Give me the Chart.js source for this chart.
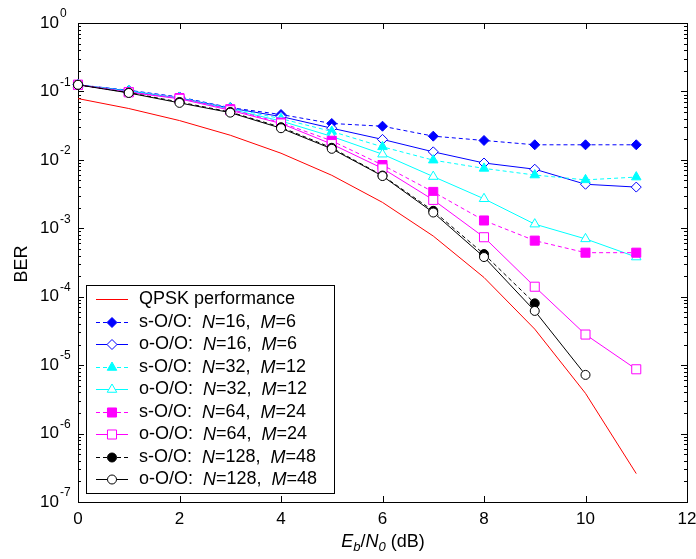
<!DOCTYPE html>
<html>
<head>
<meta charset="utf-8">
<script src="https://cdn.jsdelivr.net/npm/chart.js@4.4.0/dist/chart.umd.min.js"></script>
<style>
html, body { margin: 0; padding: 0; background: #fff; }
</style>
</head>
<body>
<canvas id="berChart" width="696" height="559"></canvas>
<script>
// Eb/N0 in dB
var ebno = [0, 1, 2, 3, 4, 5, 6, 7, 8, 9, 10, 11];

var qpsk   = [0.0786, 0.0563, 0.0375, 0.0229, 0.0125, 0.00595, 0.00239, 0.00077, 0.000191, 0.0000336, 0.00000387, 0.00000026];
var sN16   = [0.125, 0.104, 0.083, 0.058, 0.046, 0.034, 0.031, 0.0222, 0.0192, 0.0166, 0.0166, 0.0166];
var oN16   = [0.125, 0.102, 0.080, 0.057, 0.043, 0.029, 0.0199, 0.0131, 0.0090, 0.0073, 0.0044, 0.0040];
var sN32   = [0.125, 0.102, 0.081, 0.057, 0.040, 0.026, 0.0155, 0.0099, 0.0075, 0.0060, 0.0051, 0.0056];
var oN32   = [0.125, 0.100, 0.079, 0.055, 0.037, 0.022, 0.0121, 0.0057, 0.0027, 0.00115, 0.00070, 0.00038];
var sN64   = [0.125, 0.098, 0.080, 0.055, 0.035, 0.019, 0.0084, 0.0034, 0.0013, 0.00066, 0.00044, 0.00044];
var oN64   = [0.125, 0.097, 0.078, 0.053, 0.034, 0.017, 0.0075, 0.0026, 0.00074, 0.00014, 0.000028, 0.0000087];
var sN128  = [0.125, 0.096, 0.070, 0.050, 0.030, 0.015, 0.0059, 0.0018, 0.00042, 0.000080, null, null];
var oN128  = [0.125, 0.095, 0.068, 0.049, 0.029, 0.0145, 0.0058, 0.0017, 0.00038, 0.000062, 0.0000072, null];

var xTicks = [0, 2, 4, 6, 8, 10, 12];
var yExponents = [0, -1, -2, -3, -4, -5, -6, -7];

// legend text pieces, italic parts flagged
var legendLabels = [
    [['QPSK performance']],
    [['s-O/O:  '], ['N', 1], ['=16,  '], ['M', 1], ['=6']],
    [['o-O/O:  '], ['N', 1], ['=16,  '], ['M', 1], ['=6']],
    [['s-O/O:  '], ['N', 1], ['=32,  '], ['M', 1], ['=12']],
    [['o-O/O:  '], ['N', 1], ['=32,  '], ['M', 1], ['=12']],
    [['s-O/O:  '], ['N', 1], ['=64,  '], ['M', 1], ['=24']],
    [['o-O/O:  '], ['N', 1], ['=64,  '], ['M', 1], ['=24']],
    [['s-O/O:  '], ['N', 1], ['=128,  '], ['M', 1], ['=48']],
    [['o-O/O:  '], ['N', 1], ['=128,  '], ['M', 1], ['=48']]
];

var FONT = 'Arial, "Liberation Sans", sans-serif';

function series(values, color, dashed, style, radius, filled) {
    return {
        data: values,
        borderColor: color,
        borderWidth: 1,
        borderDash: dashed ? [4, 3] : [],
        pointStyle: style || false,
        pointRadius: style ? radius : 0,
        pointBorderColor: color,
        pointBackgroundColor: filled ? color : '#ffffff',
        pointBorderWidth: 1,
        pointHoverRadius: radius || 0,
        spanGaps: false,
        tension: 0,
        clip: false
    };
}

var datasets = [
    series(qpsk, '#ff0000', false, false, 0, false),
    series(sN16, '#0000ff', true, 'rectRot', 5, true),
    series(oN16, '#0000ff', false, 'rectRot', 5, false),
    series(sN32, '#00ffff', true, 'triangle', 5.5, true),
    series(oN32, '#00ffff', false, 'triangle', 5.5, false),
    series(sN64, '#ff00ff', true, 'rect', 6.4, true),
    series(oN64, '#ff00ff', false, 'rect', 6.4, false),
    series(sN128, '#000000', true, 'circle', 4.5, true),
    series(oN128, '#000000', false, 'circle', 4.5, false)
];
datasets.forEach(function (d, i) { d.order = datasets.length - i; });

function drawRich(ctx, parts, x, y, size) {
    parts.forEach(function (p) {
        ctx.font = (p[1] ? 'italic ' : '') + size + 'px ' + FONT;
        ctx.fillText(p[0], x, y);
        x += ctx.measureText(p[0]).width;
    });
}

var axesPlugin = {
    id: 'matlabAxes',
    beforeDatasetsDraw: function (chart) {
        var ctx = chart.ctx, a = chart.chartArea;
        var xs = chart.scales.x, ys = chart.scales.y;
        ctx.save();
        ctx.strokeStyle = '#000';
        ctx.lineWidth = 1;
        ctx.strokeRect(Math.round(a.left) + 0.5, Math.round(a.top) + 0.5,
            Math.round(a.right - a.left), Math.round(a.bottom - a.top));

        ctx.beginPath();
        xTicks.forEach(function (v) {
            var px = Math.round(xs.getPixelForValue(v)) + 0.5;
            ctx.moveTo(px, a.bottom); ctx.lineTo(px, a.bottom - 6);
            ctx.moveTo(px, a.top); ctx.lineTo(px, a.top + 6);
        });
        yExponents.forEach(function (e) {
            var py = Math.round(ys.getPixelForValue(Math.pow(10, e))) + 0.5;
            ctx.moveTo(a.left, py); ctx.lineTo(a.left + 6, py);
            ctx.moveTo(a.right, py); ctx.lineTo(a.right - 6, py);
            if (e < 0) {
                for (var k = 2; k <= 9; k++) {
                    var pm = Math.round(ys.getPixelForValue(k * Math.pow(10, e))) + 0.5;
                    ctx.moveTo(a.left, pm); ctx.lineTo(a.left + 3, pm);
                    ctx.moveTo(a.right, pm); ctx.lineTo(a.right - 3, pm);
                }
            }
        });
        ctx.stroke();

        // tick labels
        ctx.fillStyle = '#000';
        ctx.textBaseline = 'middle';
        ctx.textAlign = 'center';
        ctx.font = '17px ' + FONT;
        xTicks.forEach(function (v) {
            ctx.fillText(String(v), xs.getPixelForValue(v), a.bottom + 17);
        });
        yExponents.forEach(function (e) {
            var py = ys.getPixelForValue(Math.pow(10, e));
            ctx.textAlign = 'right';
            ctx.font = '17px ' + FONT;
            ctx.fillText('10', a.left - 19, py);
            ctx.textAlign = 'left';
            ctx.font = '12px ' + FONT;
            ctx.fillText(String(e), a.left - 18, py - 9);
        });

        // axis titles
        ctx.save();
        ctx.translate(22, 264);
        ctx.rotate(-Math.PI / 2);
        ctx.textAlign = 'center';
        ctx.font = '18px ' + FONT;
        ctx.fillText('BER', 0, 0);
        ctx.restore();

        var parts = [['E', 1, 18, 0], ['b', 1, 13, 5], ['/', 0, 18, 0], ['N', 1, 18, 0], ['0', 1, 13, 5], [' (dB)', 0, 18, 0]];
        var total = 0;
        parts.forEach(function (p) {
            ctx.font = (p[1] ? 'italic ' : '') + p[2] + 'px ' + FONT;
            total += ctx.measureText(p[0]).width;
        });
        var tx = 383 - total / 2;
        ctx.textAlign = 'left';
        parts.forEach(function (p) {
            ctx.font = (p[1] ? 'italic ' : '') + p[2] + 'px ' + FONT;
            ctx.fillText(p[0], tx, 542 + p[3]);
            tx += ctx.measureText(p[0]).width;
        });
        ctx.restore();
    },
    afterDraw: function (chart) {
        var ctx = chart.ctx;
        var box = { left: 86, top: 285, right: 334, bottom: 493 };
        ctx.save();
        ctx.fillStyle = '#fff';
        ctx.fillRect(box.left, box.top, box.right - box.left, box.bottom - box.top);
        ctx.strokeStyle = '#000';
        ctx.lineWidth = 1;
        ctx.strokeRect(box.left + 0.5, box.top + 0.5, box.right - box.left, box.bottom - box.top);

        chart.data.datasets.forEach(function (d, i) {
            var y = Math.round(299 + i * 22.5) + 0.5;
            ctx.save();
            ctx.strokeStyle = d.borderColor;
            ctx.lineWidth = 1;
            ctx.setLineDash(d.borderDash);
            ctx.beginPath();
            ctx.moveTo(96, y); ctx.lineTo(128, y);
            ctx.stroke();
            ctx.setLineDash([]);
            if (d.pointStyle) {
                ctx.fillStyle = d.pointBackgroundColor;
                ctx.strokeStyle = d.pointBorderColor;
                Chart.helpers.drawPoint(ctx, {
                    pointStyle: d.pointStyle, radius: d.pointRadius, rotation: 0, borderWidth: 1
                }, 112, y);
            }
            ctx.restore();
            ctx.fillStyle = '#000';
            ctx.textBaseline = 'middle';
            ctx.textAlign = 'left';
            drawRich(ctx, legendLabels[i], 139, y, 18);
        });
        ctx.restore();
    }
};

var berChart = new Chart(document.getElementById('berChart').getContext('2d'), {
    type: 'line',
    data: { labels: ebno, datasets: datasets },
    options: {
        responsive: false,
        animation: false,
        layout: { padding: { left: 78, top: 23, right: 9, bottom: 57 } },
        plugins: { legend: { display: false }, tooltip: { enabled: false } },
        scales: {
            x: { type: 'linear', min: 0, max: 12, display: false },
            y: { type: 'logarithmic', min: 1e-7, max: 1, display: false }
        }
    },
    plugins: [axesPlugin]
});
</script>
</body>
</html>
